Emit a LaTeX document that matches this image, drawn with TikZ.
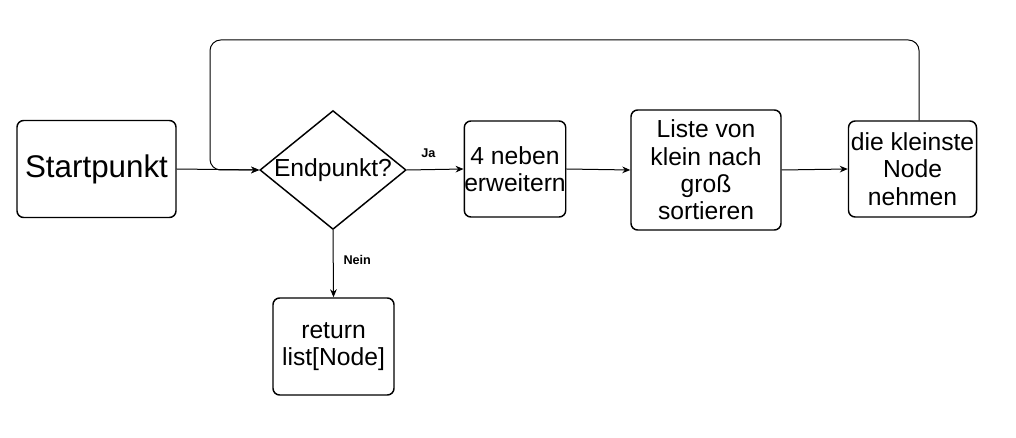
\documentclass[tikz,border=0pt]{standalone}
\usepackage{fontspec}
\setmainfont{Liberation Sans}
\usetikzlibrary{shapes.geometric,arrows.meta}

\tikzset{
  stepbox/.style={draw, line width=1.1pt, rounded corners=5pt, align=center,
    inner sep=0pt, fill=white, font=\fontsize{18.5}{20.5}\selectfont},
  decision/.style={draw, diamond, line width=1.1pt, inner sep=0pt, fill=white,
    font=\fontsize{18.5}{20.5}\selectfont},
  flow/.style={-{Stealth[length=6pt,width=5pt]}, line width=0.75pt},
  edgelabel/.style={font=\bfseries\fontsize{9.5}{11}\selectfont}
}

\begin{document}
\begin{tikzpicture}[x=0.75pt,y=-0.75pt]
\useasboundingbox (0,0) rectangle (1016,438);

\node [stepbox, minimum width=119.25pt, minimum height=72.75pt,
       font=\fontsize{23.5}{26}\selectfont]            (start)    at ( 96.5,169  ) {Startpunkt};
\node [decision, minimum width=108.75pt, minimum height=88.5pt,
       shape aspect=1.23]                                (endpunkt) at (333  ,170  ) {Endpunkt?};
\node [stepbox, minimum width=75pt,    minimum height=72pt]    (erweitern) at (515  ,169  ) {4 neben\\erweitern};
\node [stepbox, minimum width=112.5pt, minimum height=90pt]    (sortieren) at (706  ,170  ) {Liste von\\klein nach\\groß\\sortieren};
\node [stepbox, minimum width=96pt,    minimum height=72pt]    (nehmen)    at (912.5,169  ) {die kleinste\\Node\\nehmen};
\node [stepbox, minimum width=90.75pt, minimum height=72.75pt] (rueckgabe) at (333.5,346.5) {return\\list[Node]};

\coordinate (loopleft) at (210,40);

\draw[flow] (start.east) -- (endpunkt.west);
\draw[flow] (endpunkt.east) -- node [edgelabel, above=5pt, pos=0.38] {Ja} (erweitern.west);
\draw[flow] (erweitern.east) -- (sortieren.west);
\draw[flow] (sortieren.east) -- (nehmen.west);
\draw[flow] (endpunkt.south) -- node [edgelabel, right=4pt, pos=0.45] {Nein} (rueckgabe.north);
\draw[flow,rounded corners=8pt]
    ([xshift=4.9pt]nehmen.north) |- (loopleft) |- (endpunkt.west);
\end{tikzpicture}
\end{document}
